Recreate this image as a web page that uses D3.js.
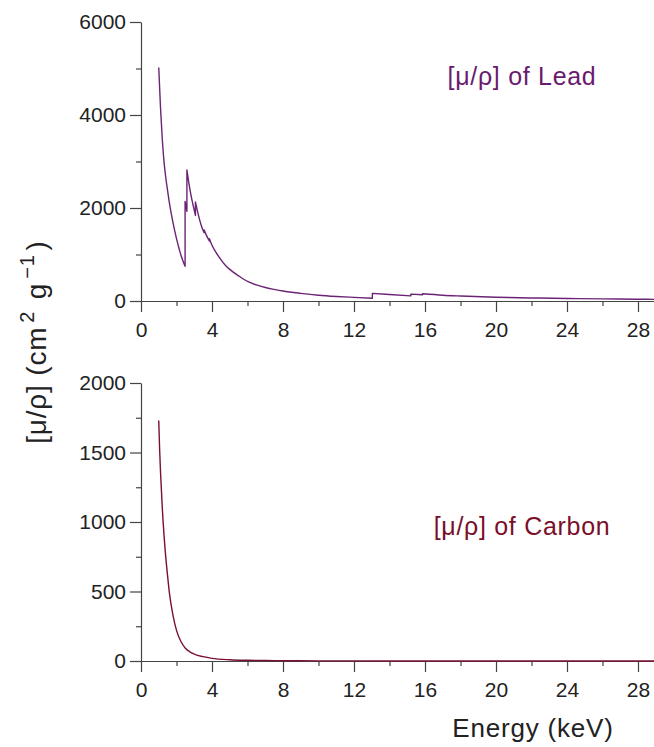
<!DOCTYPE html>
<html>
<head>
<meta charset="utf-8">
<script src="https://cdn.jsdelivr.net/npm/d3@7"></script>
<style>
  body { margin: 0; background: #fff; }
  text { font-family: "Liberation Sans", Arial, sans-serif; }
</style>
</head>
<body>
<div id="chart"></div>
<script>
// Lead [mu/rho] vs energy, edges given as repeated energies
var leadEnergy = [1.0, 1.1, 1.2, 1.3, 1.4, 1.5, 1.6, 1.7, 1.8, 1.9, 2.0, 2.1, 2.2, 2.3, 2.4, 2.484,
                  2.484, 2.586,
                  2.586, 2.7, 2.8, 2.9, 3.0, 3.066,
                  3.066, 3.2, 3.3, 3.4, 3.554,
                  3.554, 3.7, 3.851,
                  3.851, 4.0, 4.25, 4.5, 4.75, 5.0, 5.5, 6.0, 6.5, 7.0, 7.5, 8.0, 9.0, 10.0, 11.0, 12.0, 13.035,
                  13.035, 14.0, 15.2,
                  15.2, 15.861,
                  15.861, 17.0, 18.0, 20.0, 22.0, 24.0, 26.0, 28.0, 29.0];
var leadMu = [5020, 4150, 3480, 2980, 2640, 2370, 2110, 1890, 1690, 1510, 1340, 1190, 1050, 930, 825, 745,
              2140, 1930,
              2820, 2530, 2310, 2120, 1950, 1840,
              2130, 1900, 1750, 1620, 1470,
              1530, 1400, 1290,
              1340, 1200, 1030, 890, 770, 680, 540, 420, 345, 290, 250, 215, 165, 125, 98, 78, 60,
              165, 140, 110,
              148, 135,
              155, 125, 108, 82, 66, 54, 45, 38, 35];

// Carbon [mu/rho] vs energy
var carbonEnergy = [1.0, 1.05, 1.1, 1.2, 1.3, 1.4, 1.5, 1.6, 1.8, 2.0, 2.25, 2.5, 2.75, 3.0, 3.5, 4.0,
                    5.0, 6.0, 7.0, 8.0, 10.0, 12.0, 15.0, 20.0, 25.0, 29.0];
var carbonMu = [1730, 1520, 1360, 1100, 900, 740, 610, 490, 330, 220, 140, 92, 66, 50, 31, 19,
                9, 5, 3.2, 2.2, 1.1, 0.7, 0.5, 0.35, 0.25, 0.21];

var xTicks = [0, 4, 8, 12, 16, 20, 24, 28];
var xMinorTicks = [2, 6, 10, 14, 18, 22, 26];
var leadYTicks = [0, 2000, 4000, 6000];
var leadYMinor = [1000, 3000, 5000];
var carbonYTicks = [0, 500, 1000, 1500, 2000];
var carbonYMinor = [250, 750, 1250, 1750];

var W = 654, H = 747;
var axisColor = "#444";
var leadColor = "#6b2475";
var carbonColor = "#7a1030";

var svg = d3.select("#chart").append("svg")
    .attr("width", W)
    .attr("height", H);

var x = d3.scaleLinear().domain([0, 29]).range([141, 141 + 29 * 17.75]);

function drawPanel(yDomain, yRange, yTicks, yMinor, energy, mu, color) {
    var y = d3.scaleLinear().domain(yDomain).range(yRange);
    var g = svg.append("g");

    // minor ticks first
    g.append("g")
        .attr("transform", "translate(0," + yRange[0] + ")")
        .call(d3.axisBottom(x).tickValues(xMinorTicks).tickSize(5).tickFormat(""))
        .call(function(s) { s.select(".domain").remove(); });
    g.append("g")
        .attr("transform", "translate(" + x(0) + ",0)")
        .call(d3.axisLeft(y).tickValues(yMinor).tickSize(5).tickFormat(""))
        .call(function(s) { s.select(".domain").remove(); });

    g.append("g")
        .attr("transform", "translate(0," + yRange[0] + ")")
        .call(d3.axisBottom(x).tickValues(xTicks).tickSize(11).tickSizeOuter(0)
              .tickPadding(10).tickFormat(d3.format("d")));
    g.append("g")
        .attr("transform", "translate(" + x(0) + ",0)")
        .call(d3.axisLeft(y).tickValues(yTicks).tickSize(11).tickSizeOuter(0)
              .tickPadding(4).tickFormat(d3.format("d")));

    g.selectAll(".tick text").attr("font-size", "21px").attr("fill", "#222")
        .style("font-family", "'Liberation Sans', Arial, sans-serif");
    g.selectAll(".domain, .tick line").attr("stroke", axisColor).attr("stroke-width", 1.2);

    // split series where an energy repeats (absorption edge) so edges are vertical
    var segs = [], cur = [];
    energy.forEach(function(e, i) {
        if (i > 0 && e === energy[i - 1]) { segs.push(cur); cur = []; }
        cur.push([e, mu[i]]);
    });
    segs.push(cur);

    var line = d3.line()
        .x(function(d) { return x(d[0]); })
        .y(function(d) { return y(d[1]); })
        .curve(d3.curveMonotoneX);

    var dStr = segs.map(function(s, i) {
        var p = line(s);
        return i === 0 ? p : "L" + p.slice(1);
    }).join("");

    g.append("path")
        .attr("d", dStr)
        .attr("fill", "none")
        .attr("stroke", color)
        .attr("stroke-width", 1.4)
        .attr("stroke-linejoin", "round");
    return y;
}

drawPanel([0, 6000], [301, 22], leadYTicks, leadYMinor, leadEnergy, leadMu, leadColor);
drawPanel([0, 2000], [661, 383], carbonYTicks, carbonYMinor, carbonEnergy, carbonMu, carbonColor);

// annotations
svg.append("text")
    .attr("x", 522).attr("y", 85)
    .attr("text-anchor", "middle")
    .attr("font-size", "25px")
    .attr("letter-spacing", "0.7px")
    .attr("fill", "#6a1b6e")
    .text("[μ/ρ] of Lead");

svg.append("text")
    .attr("x", 522).attr("y", 535)
    .attr("text-anchor", "middle")
    .attr("font-size", "25px")
    .attr("letter-spacing", "0.7px")
    .attr("fill", "#7a0f2a")
    .text("[μ/ρ] of Carbon");

// axis titles
svg.append("text")
    .attr("x", 533).attr("y", 737)
    .attr("text-anchor", "middle")
    .attr("font-size", "26px")
    .attr("letter-spacing", "0.8px")
    .attr("fill", "#222")
    .text("Energy (keV)");

var yl = svg.append("text")
    .attr("transform", "translate(46,342) rotate(-90)")
    .attr("text-anchor", "middle")
    .attr("font-size", "28px")
    .attr("letter-spacing", "0.8px")
    .attr("fill", "#222");
yl.append("tspan").text("[μ/ρ] (cm");
yl.append("tspan").attr("dx", 4).attr("dy", -12).attr("font-size", "20px").text("2");
yl.append("tspan").attr("dx", 3).attr("dy", 12).text(" g");
yl.append("tspan").attr("dx", 4).attr("dy", -12).attr("font-size", "20px").text("−1");
yl.append("tspan").attr("dx", 4).attr("dy", 12).text(")");
</script>
</body>
</html>
